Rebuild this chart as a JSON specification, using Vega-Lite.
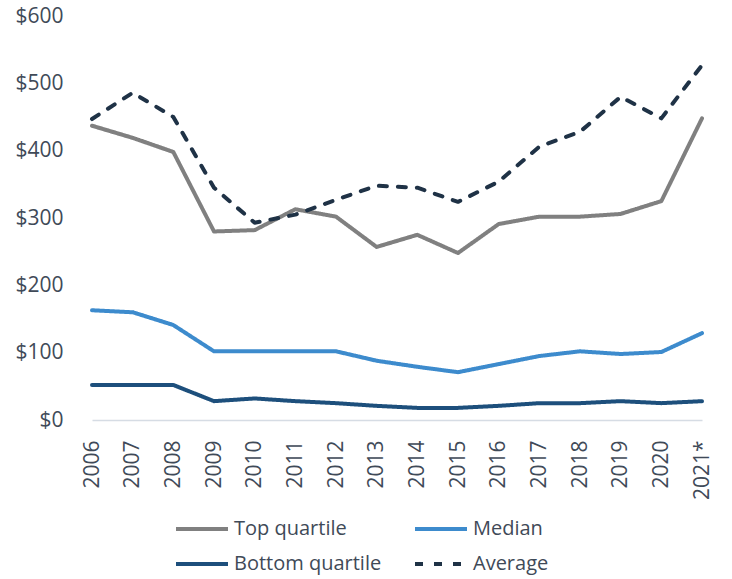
{
  "$schema": "https://vega.github.io/schema/vega-lite/v6.json",
  "width": 610,
  "height": 404,
  "autosize": {"type": "none"},
  "padding": {"left": 92, "top": 16, "right": 30, "bottom": 159},
  "background": "white",
  "config": {
    "view": {"stroke": null},
    "font": "Open Sans",
    "axis": {"labelFont": "Open Sans", "labelColor": "#3f4a58", "labelFontSize": 21}
  },
  "data": {
    "values": [
      {"year": "2006", "series": "Top quartile", "value": 437},
      {"year": "2007", "series": "Top quartile", "value": 419},
      {"year": "2008", "series": "Top quartile", "value": 398},
      {"year": "2009", "series": "Top quartile", "value": 280},
      {"year": "2010", "series": "Top quartile", "value": 282},
      {"year": "2011", "series": "Top quartile", "value": 313},
      {"year": "2012", "series": "Top quartile", "value": 302},
      {"year": "2013", "series": "Top quartile", "value": 257},
      {"year": "2014", "series": "Top quartile", "value": 275},
      {"year": "2015", "series": "Top quartile", "value": 248},
      {"year": "2016", "series": "Top quartile", "value": 291},
      {"year": "2017", "series": "Top quartile", "value": 302},
      {"year": "2018", "series": "Top quartile", "value": 302},
      {"year": "2019", "series": "Top quartile", "value": 306},
      {"year": "2020", "series": "Top quartile", "value": 325},
      {"year": "2021*", "series": "Top quartile", "value": 448},
      {"year": "2006", "series": "Median", "value": 163},
      {"year": "2007", "series": "Median", "value": 160},
      {"year": "2008", "series": "Median", "value": 141},
      {"year": "2009", "series": "Median", "value": 102},
      {"year": "2010", "series": "Median", "value": 102},
      {"year": "2011", "series": "Median", "value": 102},
      {"year": "2012", "series": "Median", "value": 102},
      {"year": "2013", "series": "Median", "value": 88},
      {"year": "2014", "series": "Median", "value": 79},
      {"year": "2015", "series": "Median", "value": 71},
      {"year": "2016", "series": "Median", "value": 83},
      {"year": "2017", "series": "Median", "value": 95},
      {"year": "2018", "series": "Median", "value": 102},
      {"year": "2019", "series": "Median", "value": 98},
      {"year": "2020", "series": "Median", "value": 101},
      {"year": "2021*", "series": "Median", "value": 129},
      {"year": "2006", "series": "Bottom quartile", "value": 52},
      {"year": "2007", "series": "Bottom quartile", "value": 52},
      {"year": "2008", "series": "Bottom quartile", "value": 52},
      {"year": "2009", "series": "Bottom quartile", "value": 28},
      {"year": "2010", "series": "Bottom quartile", "value": 32},
      {"year": "2011", "series": "Bottom quartile", "value": 28},
      {"year": "2012", "series": "Bottom quartile", "value": 25},
      {"year": "2013", "series": "Bottom quartile", "value": 21},
      {"year": "2014", "series": "Bottom quartile", "value": 18},
      {"year": "2015", "series": "Bottom quartile", "value": 18},
      {"year": "2016", "series": "Bottom quartile", "value": 21},
      {"year": "2017", "series": "Bottom quartile", "value": 25},
      {"year": "2018", "series": "Bottom quartile", "value": 25},
      {"year": "2019", "series": "Bottom quartile", "value": 28},
      {"year": "2020", "series": "Bottom quartile", "value": 25},
      {"year": "2021*", "series": "Bottom quartile", "value": 28},
      {"year": "2006", "series": "Average", "value": 447},
      {"year": "2007", "series": "Average", "value": 486},
      {"year": "2008", "series": "Average", "value": 450},
      {"year": "2009", "series": "Average", "value": 345},
      {"year": "2010", "series": "Average", "value": 293},
      {"year": "2011", "series": "Average", "value": 305},
      {"year": "2012", "series": "Average", "value": 327},
      {"year": "2013", "series": "Average", "value": 348},
      {"year": "2014", "series": "Average", "value": 345},
      {"year": "2015", "series": "Average", "value": 324},
      {"year": "2016", "series": "Average", "value": 354},
      {"year": "2017", "series": "Average", "value": 406},
      {"year": "2018", "series": "Average", "value": 428},
      {"year": "2019", "series": "Average", "value": 480},
      {"year": "2020", "series": "Average", "value": 448},
      {"year": "2021*", "series": "Average", "value": 527}
    ]
  },
  "mark": {"type": "line", "strokeWidth": 4, "strokeJoin": "round", "strokeCap": "round"},
  "encoding": {
    "x": {
      "field": "year", "type": "ordinal", "sort": null,
      "scale": {"type": "point", "padding": 0},
      "axis": {
        "title": null, "labelAngle": -90, "ticks": false, "labelPadding": 20,
        "domainColor": "#d6dce4", "domainWidth": 1.5, "grid": false
      }
    },
    "y": {
      "field": "value", "type": "quantitative",
      "scale": {"domain": [0, 600], "nice": false},
      "axis": {
        "title": null, "values": [0, 100, 200, 300, 400, 500, 600],
        "labelExpr": "'$' + datum.value", "ticks": false, "domain": false,
        "grid": false, "labelPadding": 29
      }
    },
    "color": {
      "field": "series", "type": "nominal",
      "scale": {
        "domain": ["Top quartile", "Median", "Bottom quartile", "Average"],
        "range": ["#808080", "#3d8bcd", "#1d4f7c", "#1f3246"]
      },
      "legend": {
        "title": null, "orient": "none", "legendX": 82, "legendY": 501,
        "direction": "horizontal",
        "columns": 2, "columnPadding": 25, "rowPadding": 13, "padding": 0,
        "labelFontSize": 20, "labelColor": "#3f4a58", "labelFont": "Open Sans",
        "labelOffset": 36, "symbolType": "M-1,0H4.2", "symbolSize": 400,
        "symbolStrokeWidth": 4
      }
    },
    "strokeDash": {
      "field": "series", "type": "nominal",
      "scale": {
        "domain": ["Top quartile", "Median", "Bottom quartile", "Average"],
        "range": [[1, 0], [1, 0], [1, 0], [8, 11]]
      },
      "legend": null
    }
  }
}
